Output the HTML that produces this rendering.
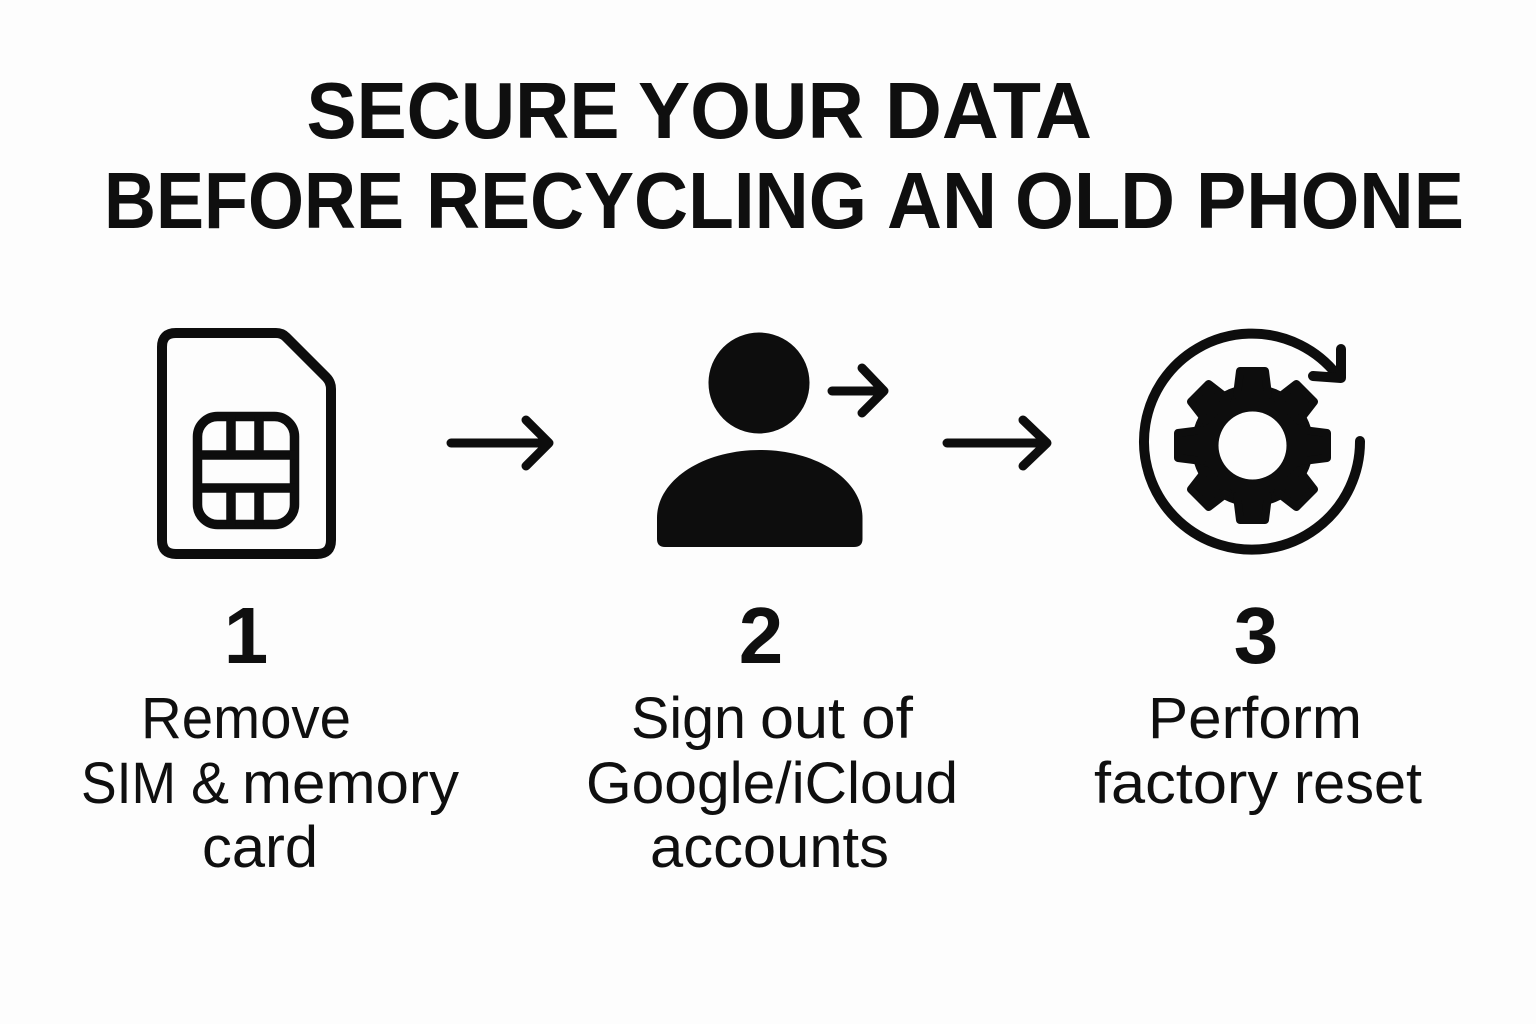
<!DOCTYPE html>
<html lang="en">
<head>
<meta charset="utf-8">
<title>Secure your data before recycling an old phone</title>
<style>
html,body{margin:0;padding:0;background:#fdfdfd}
svg{display:block}
text{font-family:"Liberation Sans",Arial,sans-serif;fill:#0f0f0f}
.t{font-weight:700;font-size:80px}
.n{font-weight:700;font-size:80px}
.l{font-size:58px}
</style>
</head>
<body>
<svg width="1536" height="1024" viewBox="0 0 1536 1024" xmlns="http://www.w3.org/2000/svg">
<rect width="1536" height="1024" fill="#fdfdfd"/>

<text class="t" x="306.500" y="138" textLength="313" lengthAdjust="spacingAndGlyphs">SECURE</text>
<text class="t" x="638" y="138" textLength="226" lengthAdjust="spacingAndGlyphs">YOUR</text>
<text class="t" x="885" y="138" textLength="207" lengthAdjust="spacingAndGlyphs">DATA</text>

<text class="t" x="104" y="228" textLength="300" lengthAdjust="spacingAndGlyphs">BEFORE</text>
<text class="t" x="426" y="228" textLength="441" lengthAdjust="spacingAndGlyphs">RECYCLING</text>
<text class="t" x="887" y="228" textLength="110" lengthAdjust="spacingAndGlyphs">AN</text>
<text class="t" x="1015" y="228" textLength="160" lengthAdjust="spacingAndGlyphs">OLD</text>
<text class="t" x="1196" y="228" textLength="268" lengthAdjust="spacingAndGlyphs">PHONE</text>

<!-- SIM card -->
<g fill="none" stroke="#0d0d0d" stroke-width="10" stroke-linejoin="round">
<path d="M176 333H276Q282 333 286 337L326 377Q331 382 331 389V540Q331 554 317 554H176Q162 554 162 540V347Q162 333 176 333Z"/>
<g stroke-width="9.500">
<rect x="197.500" y="416.500" width="97" height="108" rx="20"/>
<path d="M197 455H295M197 488H295M231 416V455M259 416V455M231 488V525M259 488V525"/>
</g>
</g>

<!-- Arrows -->
<g fill="none" stroke="#0d0d0d" stroke-width="9" stroke-linecap="round" stroke-linejoin="round">
<path d="M451 443H548M526 420L549 443L526 466"/>
<path d="M947 443H1046M1023 420L1047 443L1023 466"/>
<path d="M832 391H884M862 368L884 391L862 413"/>
</g>

<!-- Person -->
<circle cx="759" cy="383" r="50.500" fill="#0d0d0d"/>
<path d="M657 518C657 480 703 450 760 450C817 450 862.500 480 862.500 518V539Q862.500 547 854 547H665Q657 547 657 539Z" fill="#0d0d0d"/>

<!-- Gear -->
<g fill="#0d0d0d">
<circle cx="1252.500" cy="445.500" r="61"/>
<path stroke="#0d0d0d" stroke-width="8" stroke-linejoin="round" d="M1237 395L1240 371H1265L1268 395Z"/>
<path stroke="#0d0d0d" stroke-width="8" stroke-linejoin="round" d="M1237 395L1240 371H1265L1268 395Z" transform="rotate(45 1252.500 445.500)"/>
<path stroke="#0d0d0d" stroke-width="8" stroke-linejoin="round" d="M1237 395L1240 371H1265L1268 395Z" transform="rotate(90 1252.500 445.500)"/>
<path stroke="#0d0d0d" stroke-width="8" stroke-linejoin="round" d="M1237 395L1240 371H1265L1268 395Z" transform="rotate(135 1252.500 445.500)"/>
<path stroke="#0d0d0d" stroke-width="8" stroke-linejoin="round" d="M1237 395L1240 371H1265L1268 395Z" transform="rotate(180 1252.500 445.500)"/>
<path stroke="#0d0d0d" stroke-width="8" stroke-linejoin="round" d="M1237 395L1240 371H1265L1268 395Z" transform="rotate(225 1252.500 445.500)"/>
<path stroke="#0d0d0d" stroke-width="8" stroke-linejoin="round" d="M1237 395L1240 371H1265L1268 395Z" transform="rotate(270 1252.500 445.500)"/>
<path stroke="#0d0d0d" stroke-width="8" stroke-linejoin="round" d="M1237 395L1240 371H1265L1268 395Z" transform="rotate(315 1252.500 445.500)"/>
<circle cx="1252.500" cy="445.500" r="34" fill="#fdfdfd"/>
</g>
<g fill="none" stroke="#0d0d0d" stroke-width="10" stroke-linecap="round" stroke-linejoin="round">
<path d="M1360 441A108 108 0 1 1 1337 375"/>
<path d="M1341 349V378L1313 376"/>
</g>

<!-- Numbers -->
<text class="n" x="246" y="663" text-anchor="middle">1</text>
<text class="n" x="761" y="663" text-anchor="middle">2</text>
<text class="n" x="1256" y="663" text-anchor="middle">3</text>

<!-- Labels -->
<text class="l" x="141" y="738" textLength="210" lengthAdjust="spacingAndGlyphs">Remove</text>
<text class="l" x="81" y="803" textLength="95" lengthAdjust="spacingAndGlyphs">SIM</text>
<text class="l" x="191" y="803" textLength="38" lengthAdjust="spacingAndGlyphs">&amp;</text>
<text class="l" x="242" y="803" textLength="217" lengthAdjust="spacingAndGlyphs">memory</text>
<text class="l" x="202" y="867" textLength="116" lengthAdjust="spacingAndGlyphs">card</text>

<text class="l" x="631" y="738" textLength="115" lengthAdjust="spacingAndGlyphs">Sign</text>
<text class="l" x="760" y="738" textLength="85" lengthAdjust="spacingAndGlyphs">out</text>
<text class="l" x="861" y="738" textLength="52" lengthAdjust="spacingAndGlyphs">of</text>
<text class="l" x="586" y="803" textLength="372" lengthAdjust="spacingAndGlyphs">Google/iCloud</text>
<text class="l" x="650" y="867" textLength="239" lengthAdjust="spacingAndGlyphs">accounts</text>

<text class="l" x="1148" y="738" textLength="214" lengthAdjust="spacingAndGlyphs">Perform</text>
<text class="l" x="1094" y="803" textLength="184" lengthAdjust="spacingAndGlyphs">factory</text>
<text class="l" x="1294" y="803" textLength="128" lengthAdjust="spacingAndGlyphs">reset</text>
</svg>
</body>
</html>
